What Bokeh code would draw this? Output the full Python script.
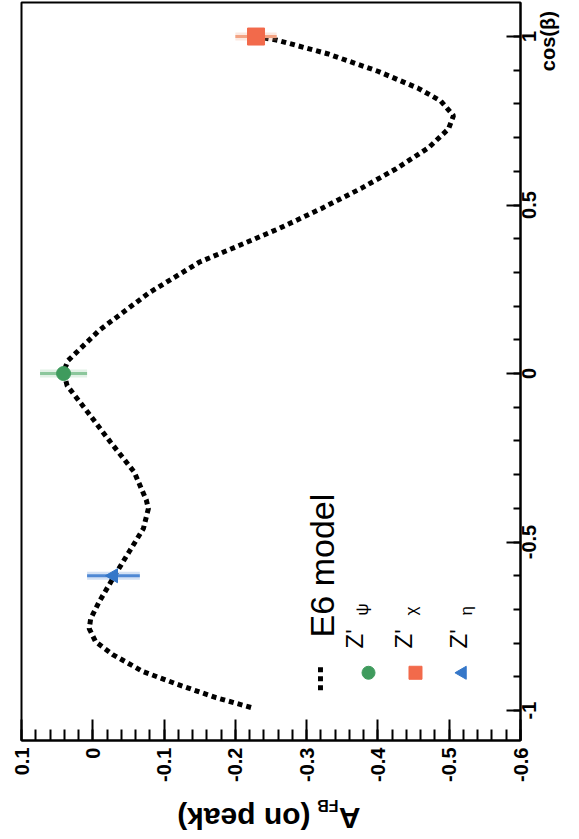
import math
from bokeh.plotting import figure
from bokeh.models import Range1d, FixedTicker, Label, LinearAxis
from bokeh.layouts import column
from bokeh.embed import file_html
from bokeh.resources import INLINE

# E6 model prediction: on-peak forward-backward asymmetry versus cos(beta)
model_cosb = [-0.991, -0.962, -0.921, -0.884, -0.834, -0.796, -0.757, -0.728,
              -0.677, -0.598, -0.529, -0.460, -0.401, -0.375, -0.292, -0.204,
              -0.115, -0.036, 0.004, 0.038, 0.130, 0.241, 0.331, 0.376, 0.430,
              0.490, 0.550, 0.607, 0.670, 0.726, 0.765, 0.809, 0.847, 0.897,
              0.949, 0.989, 1.000]
model_afb = [-0.222, -0.173, -0.117, -0.070, -0.028, -0.004, 0.005, 0.003,
             -0.009, -0.031, -0.051, -0.071, -0.078, -0.075, -0.058, -0.025,
             0.007, 0.036, 0.041, 0.035, -0.010, -0.080, -0.150, -0.201, -0.261,
             -0.321, -0.377, -0.425, -0.471, -0.499, -0.506, -0.488, -0.456,
             -0.400, -0.329, -0.259, -0.229]

# Benchmark Z' models with their uncertainty on A_FB
zp_names = ["psi", "chi", "eta"]
zp_cosb = [0.0, 1.0, -0.6]
zp_afb = [0.041, -0.229, -0.029]
zp_err = [0.033, 0.029, 0.037]

afb_ticks = [0.1, 0.0, -0.1, -0.2, -0.3, -0.4, -0.5, -0.6]
afb_labels = ["0.1", "0", "-0.1", "-0.2", "-0.3", "-0.4", "-0.5", "-0.6"]
cosb_ticks = [-1.0, -0.5, 0.0, 0.5, 1.0]
cosb_labels = ["-1", "-0.5", "0", "0.5", "1"]
cosb_title = "cos(β)"
cosb_title_at = 0.985

FONT = "Liberation Sans"
marker_style = {
    "psi": dict(marker="circle", size=14, color="#3f9b5d", err="#8cc79c", angle=0.0),
    "chi": dict(marker="square", size=17, color="#f26a4b", err="#f3a383", angle=0.0),
    "eta": dict(marker="triangle", size=14, color="#3577c9", err="#4f88d4", angle=math.pi / 2),
}

afb_range = Range1d(0.1, -0.6)
cosb_range = Range1d(-1.089, 1.101)
FRAME_H = 785 - 2 - 45
PX_PER_COSB = FRAME_H / (cosb_range.end - cosb_range.start)

# advance widths (em) of the bold sans face, used to centre the upright-reading labels
BOLD_EM = {"-": 0.333, ".": 0.278, "(": 0.333, ")": 0.333, "o": 0.611, "β": 0.572}


def half_length(text, size_px):
    """Half the printed length of a label, in cos(beta) units."""
    width = size_px * sum(BOLD_EM.get(ch, 0.556) for ch in text)
    return 0.5 * width / PX_PER_COSB


# ---- main panel -------------------------------------------------------------
p = figure(width=579, height=785, output_backend="svg", toolbar_location=None,
           x_range=afb_range, y_range=cosb_range,
           x_axis_location="below", y_axis_location="right",
           min_border_left=21, min_border_right=59, min_border_top=2, min_border_bottom=45)
p.background_fill_color = "white"
p.border_fill_color = "white"
p.outline_line_color = "black"
p.outline_line_width = 2
p.xgrid.visible = False
p.ygrid.visible = False


def bold_labels(ax, size="20px"):
    ax.major_label_text_font = FONT
    ax.major_label_text_font_style = "bold"
    ax.major_label_text_font_size = size
    ax.major_label_text_color = "black"


# A_FB axis along the bottom edge
xa = p.xaxis[0]
xa.ticker = FixedTicker(ticks=afb_ticks,
                        minor_ticks=[round(0.1 - 0.02 * i, 2) for i in range(36)])
xa.major_label_overrides = dict(zip(afb_ticks, afb_labels))
xa.major_label_orientation = math.pi / 2
xa.major_tick_in = 21
xa.major_tick_out = 0
xa.minor_tick_in = 11
xa.minor_tick_out = 0
xa.major_label_standoff = 7
bold_labels(xa)

# cos(beta) axis along the right edge: tick marks
ya = p.yaxis[0]
ya.ticker = FixedTicker(ticks=cosb_ticks,
                        minor_ticks=[round(-1.0 + 0.1 * i, 1) for i in range(21)])
ya.major_label_overrides = {t: "" for t in cosb_ticks}
ya.major_label_standoff = 0
ya.major_tick_in = 14
ya.major_tick_out = 0
ya.minor_tick_in = 7
ya.minor_tick_out = 0

for ax in (xa, ya):
    ax.axis_line_width = 2
    ax.major_tick_line_width = 2
    ax.minor_tick_line_width = 2

# cos(beta) numbers and title, turned to read upwards and centred on their values
num_at = [t - half_length(lab, 20) for t, lab in zip(cosb_ticks, cosb_labels)]
title_at = cosb_title_at - half_length(cosb_title, 20)
for ticks, labels, standoff in ((num_at, cosb_labels, 9), ([title_at], [cosb_title], 2)):
    ax = LinearAxis(ticker=FixedTicker(ticks=ticks, minor_ticks=[]),
                    major_label_overrides=dict(zip(ticks, labels)),
                    major_label_orientation=math.pi / 2,
                    major_label_standoff=standoff,
                    major_tick_in=0, major_tick_out=0,
                    axis_line_color=None, major_tick_line_color=None,
                    minor_tick_line_color=None)
    bold_labels(ax)
    p.add_layout(ax, "right")

# model curve
p.line(model_afb, model_cosb, line_color="black", line_width=5,
       line_dash="5 4", line_cap="butt")

# Z' points with horizontal error bars
for name, c, a, e in zip(zp_names, zp_cosb, zp_afb, zp_err):
    st = marker_style[name]
    p.segment(x0=[a - e], x1=[a + e], y0=[c], y1=[c], line_color=st["err"],
              line_width=8, line_alpha=0.25)
    p.segment(x0=[a - e], x1=[a + e], y0=[c], y1=[c], line_color=st["err"],
              line_width=3)
    p.scatter([a], [c], marker=st["marker"], size=st["size"], angle=st["angle"],
              fill_color=st["color"], line_color=st["color"])

# legend
p.line([-0.3194, -0.3194], [-0.872, -0.946], line_color="black", line_width=5,
       line_dash="5 4", line_cap="butt")
p.add_layout(Label(x=-0.3209, y=-0.783, text="E6 model", angle=math.pi / 2,
                   text_font=FONT, text_font_size="34px", text_align="left",
                   text_baseline="alphabetic", text_color="black"))

legend_rows = [("psi", "ψ", -0.3672, -0.3784, -0.3868),
               ("chi", "χ", -0.4359, -0.4471, -0.4527),
               ("eta", "η", -0.5131, -0.5243, -0.5186)]
for name, sub, x_txt, x_sub, x_mk in legend_rows:
    st = marker_style[name]
    p.add_layout(Label(x=x_txt, y=-0.816, text="Z'", angle=math.pi / 2,
                       text_font=FONT, text_font_size="24px", text_align="left",
                       text_baseline="alphabetic", text_color="black"))
    p.add_layout(Label(x=x_sub, y=-0.718, text=sub, angle=math.pi / 2,
                       text_font=FONT, text_font_size="17px", text_align="left",
                       text_baseline="alphabetic", text_color="black"))
    p.scatter([x_mk], [-0.888], marker=st["marker"], size=13, angle=st["angle"],
              fill_color=st["color"], line_color=st["color"])

# ---- strip below: A_FB axis title, printed upside down --------------------------
below = figure(width=579, height=54, output_backend="svg", toolbar_location=None,
               x_range=afb_range, y_range=Range1d(0, 1),
               x_axis_location=None, y_axis_location=None,
               min_border_left=21, min_border_right=59,
               min_border_top=0, min_border_bottom=0)
below.outline_line_color = None
below.background_fill_color = "white"
below.border_fill_color = "white"
below.grid.visible = False
title_style = dict(angle=math.pi, text_font=FONT, text_font_style="bold",
                   text_align="left", text_baseline="middle", text_color="black")
below.add_layout(Label(x=-0.3756, y=0.389, text="A", text_font_size="30px", **title_style))
below.add_layout(Label(x=-0.3447, y=0.630, text="FB", text_font_size="16px", **title_style))
below.add_layout(Label(x=-0.3054, y=0.389, text="(on peak)", text_font_size="30px",
                       **title_style))

layout = column(p, below)
open("out.html", "w").write(file_html(layout, INLINE))
